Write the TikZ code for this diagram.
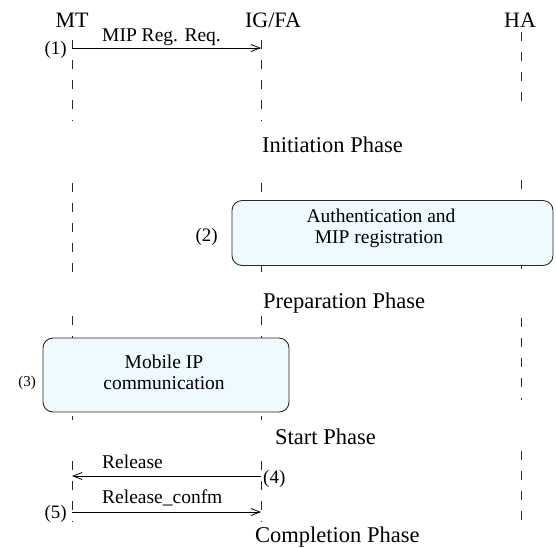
\documentclass[tikz,border=0pt]{standalone}
\usepackage{fontspec}
\setmainfont{Liberation Serif}
\usetikzlibrary{arrows.meta}
\definecolor{boxfill}{RGB}{239,250,254}
\definecolor{linegray}{RGB}{40,40,40}
\tikzset{
  lifeline/.style={draw=linegray, line width=0.6pt, dash pattern=on 9pt off 11pt},
  msg/.style={line width=0.8pt, -{Straight Barb[length=9pt,width=7pt,line width=0.8pt]}},
  phasebox/.style={draw=linegray, line width=0.9pt, fill=boxfill, rounded corners=10pt},
  boxtext/.style={font=\fontsize{19.5}{21}\selectfont, anchor=base, inner sep=0pt},
  header/.style={font=\fontsize{22}{24}\selectfont, anchor=base, inner sep=0pt},
  phase/.style={font=\fontsize{22.5}{24}\selectfont, anchor=base west, inner sep=0pt},
  msglabel/.style={font=\fontsize{19.5}{21}\selectfont, anchor=base west, inner sep=0pt},
  stepnum/.style={font=\fontsize{19}{21}\selectfont, inner sep=0pt}
}
\begin{document}
\begin{tikzpicture}[x=1pt,y=-1pt]
\useasboundingbox (0,0) rectangle (556,547);

% entity headers
\node[header] (mt) at (72,27) {MT};
\node[header] (ig) at (273,27) {IG/FA};
\node[header] (ha) at (520,27) {HA};

% lifeline segments, one group per phase
\coordinate (mt1a) at (72,40);  \coordinate (mt1b) at (72,121);
\coordinate (ig1a) at (261,40); \coordinate (ig1b) at (261,121);
\coordinate (ha1a) at (521,32); \coordinate (ha1b) at (521,110);
\draw[lifeline] (mt1a) -- (mt1b);
\draw[lifeline] (ig1a) -- (ig1b);
\draw[lifeline] (ha1a) -- (ha1b);

\coordinate (mt2a) at (72,183);  \coordinate (mt2b) at (72,276);
\coordinate (ig2a) at (261,183); \coordinate (ig2b) at (261,276);
\coordinate (ha2a) at (521,180); \coordinate (ha2b) at (521,276);
\draw[lifeline] (mt2a) -- (mt2b);
\draw[lifeline] (ig2a) -- (ig2b);
\draw[lifeline] (ha2a) -- (ha2b);

\coordinate (mt3a) at (72,316);  \coordinate (mt3b) at (72,420);
\coordinate (ig3a) at (261,316); \coordinate (ig3b) at (261,420);
\coordinate (ha3a) at (521,318); \coordinate (ha3b) at (521,400);
\draw[lifeline] (mt3a) -- (mt3b);
\draw[lifeline] (ig3a) -- (ig3b);
\draw[lifeline] (ha3a) -- (ha3b);

\coordinate (mt4a) at (72,461);  \coordinate (mt4b) at (72,522);
\coordinate (ig4a) at (261,461); \coordinate (ig4b) at (261,522);
\coordinate (ha4a) at (521,451); \coordinate (ha4b) at (521,522);
\draw[lifeline] (mt4a) -- (mt4b);
\draw[lifeline] (ig4a) -- (ig4b);
\draw[lifeline] (ha4a) -- (ha4b);

% (1) registration request
\coordinate (m1s) at (72,48); \coordinate (m1e) at (261,48);
\draw[msg] (m1s) -- (m1e);
\node[msglabel] (l1) at (102,41) {MIP Reg. Req.};
\node[stepnum, anchor=base east] (n1) at (67,54) {(1)};

% initiation phase
\node[phase] (p1) at (262,152) {Initiation Phase};

% (2) authentication block
\node[phasebox, minimum width=321pt, minimum height=65pt] (b2) at (392.5,233) {};
\node[boxtext] (b2a) at (381,222) {Authentication and};
\node[boxtext] (b2b) at (379,243) {MIP registration};
\node[stepnum, anchor=base east] (n2) at (218,241) {(2)};

\node[phase] (p2) at (263,308) {Preparation Phase};

% (3) mobile IP communication block
\node[phasebox, minimum width=246pt, minimum height=74pt] (b3) at (166,375) {};
\node[boxtext] (b3a) at (164,368) {Mobile IP};
\node[boxtext] (b3b) at (164,389) {communication};
\node[stepnum, anchor=base east, font=\fontsize{15}{17}\selectfont] (n3) at (36,386) {(3)};

\node[phase] (p3) at (275,444) {Start Phase};

% (4) release
\coordinate (m4s) at (261,476); \coordinate (m4e) at (72,476);
\draw[msg] (m4s) -- (m4e);
\node[msglabel] (l4) at (102,468) {Release};
\node[stepnum, anchor=base west] (n4) at (263,483) {(4)};

% (5) release confirmation
\coordinate (m5s) at (72,512); \coordinate (m5e) at (261,512);
\draw[msg] (m5s) -- (m5e);
\node[msglabel] (l5) at (102,503) {Release\_confm};
\node[stepnum, anchor=base east] (n5) at (67,518) {(5)};

\node[phase] (p4) at (255,542) {Completion Phase};
\end{tikzpicture}
\end{document}
